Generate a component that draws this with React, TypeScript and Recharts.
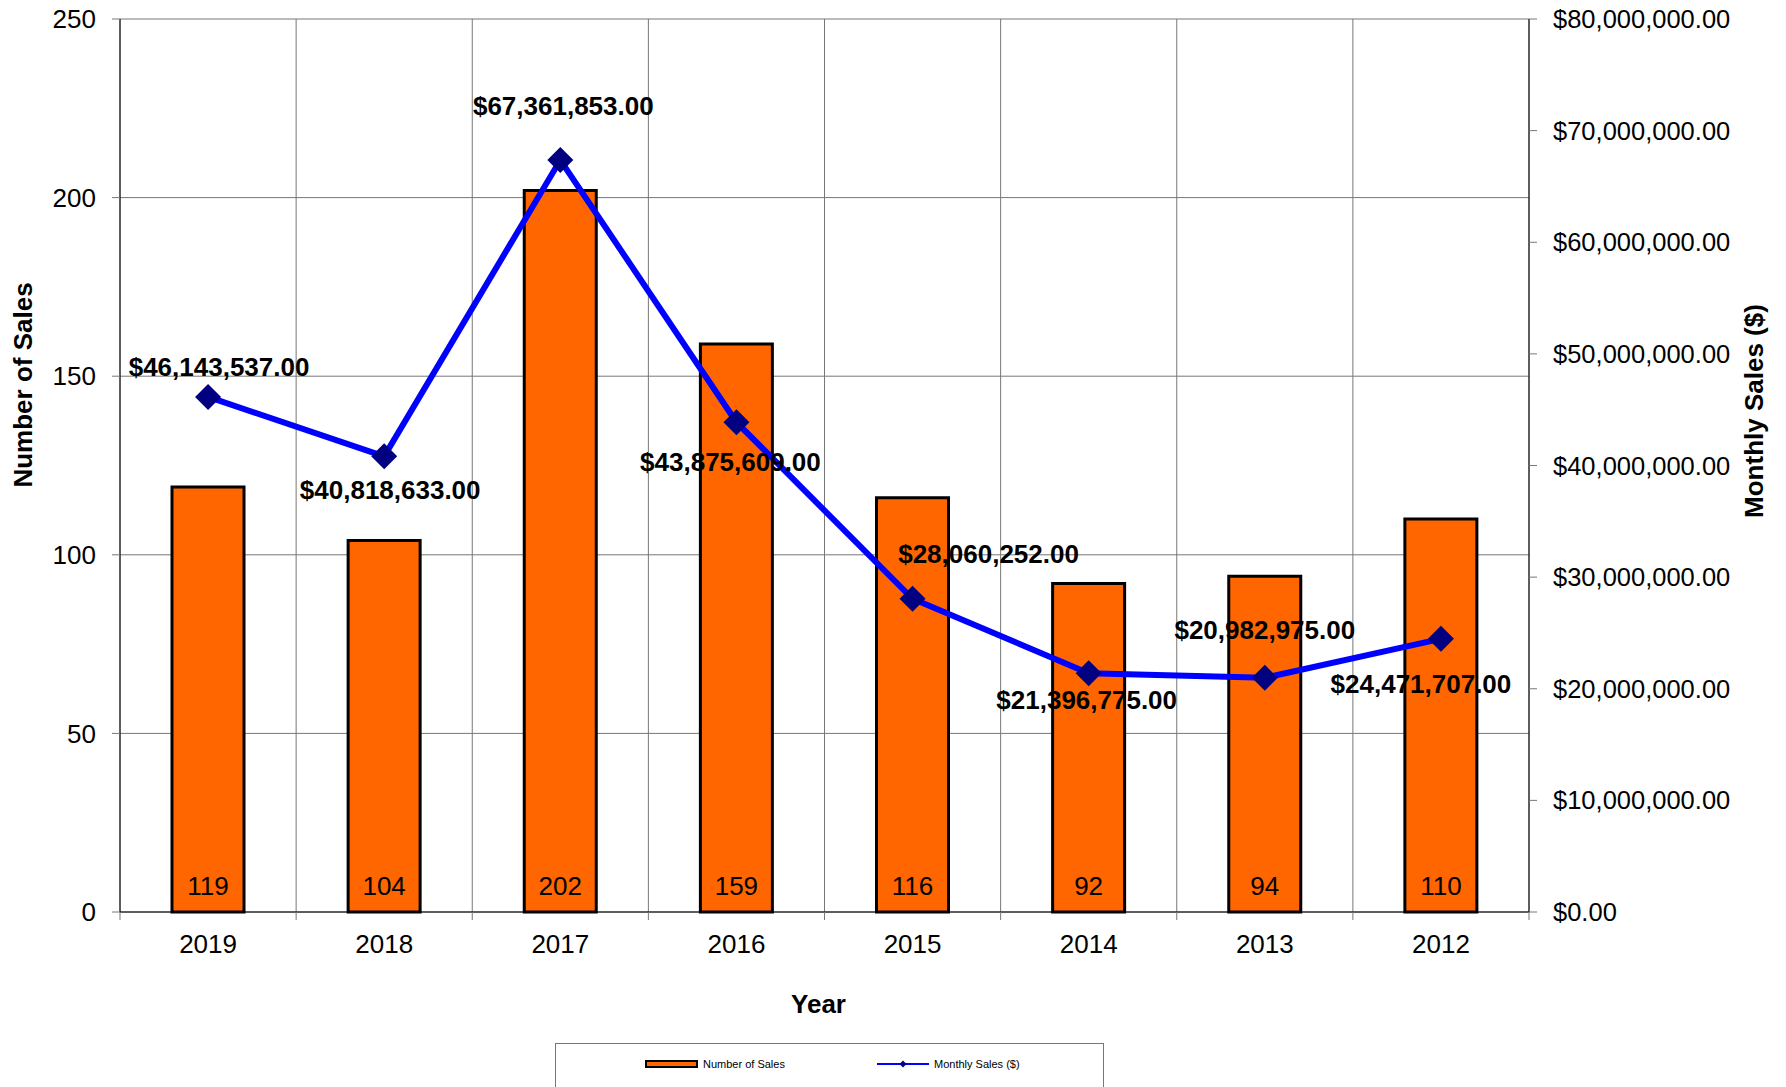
import React from "react";
import {
  Bar,
  CartesianGrid,
  ComposedChart,
  LabelList,
  Legend,
  Line,
  XAxis,
  YAxis,
} from "recharts";

const YEARS = ["2019", "2018", "2017", "2016", "2015", "2014", "2013", "2012"];
const SALES_COUNT = [119, 104, 202, 159, 116, 92, 94, 110];
const MONTHLY_SALES = [46143537, 40818633, 67361853, 43875609, 28060252, 21396775, 20982975, 24471707];
const COUNT_TICKS = [0, 50, 100, 150, 200, 250];
const MONEY_TICKS = [0, 10000000, 20000000, 30000000, 40000000, 50000000, 60000000, 70000000, 80000000];

// where each money label sits relative to its marker (dx, dy)
const LABEL_OFFSETS = [
  [11, -30],
  [6, 34],
  [3, -54],
  [-6, 40],
  [76, -45],
  [-2, 27],
  [0, -48],
  [-20, 45],
];

const FONT = "'Liberation Sans', Arial, sans-serif";
const W = 1786;
const H = 1087;
const MARGIN = { top: 19, right: 17, left: 20, bottom: 65 };
const LEFT_W = 100;
const RIGHT_W = 240;
const X_H = 110;
const PLOT_W = W - MARGIN.left - MARGIN.right - LEFT_W - RIGHT_W;
const BAND = PLOT_W / YEARS.length;
const TICK_SIZE = 8;
const X_TICK_MARGIN = 15;

const data = YEARS.map((year, i) => ({
  year,
  count: SALES_COUNT[i],
  sales: MONTHLY_SALES[i],
}));

const money = (v: number) =>
  "$" + v.toLocaleString("en-US", { minimumFractionDigits: 2, maximumFractionDigits: 2 });

function XTick(props: any) {
  const { x, y, payload, index } = props;
  const top = y - X_TICK_MARGIN - TICK_SIZE;
  return (
    <g>
      <line x1={x - BAND / 2} x2={x - BAND / 2} y1={top} y2={top + TICK_SIZE} stroke="#777" />
      {index === YEARS.length - 1 && (
        <line x1={x + BAND / 2} x2={x + BAND / 2} y1={top} y2={top + TICK_SIZE} stroke="#777" />
      )}
      <text x={x} y={y} dy="0.71em" textAnchor="middle" fontSize={26} fontFamily={FONT} fill="#000">
        {payload.value}
      </text>
    </g>
  );
}

function Diamond(props: any) {
  const { cx, cy, index } = props;
  if (cx == null || cy == null) return null;
  const r = 13;
  return (
    <path
      key={`d-${index}`}
      d={`M${cx},${cy - r}L${cx + r},${cy}L${cx},${cy + r}L${cx - r},${cy}Z`}
      fill="#000080"
    />
  );
}

function SalesLabel(props: any) {
  const { x, y, index, value } = props;
  const [dx, dy] = LABEL_OFFSETS[index] || [0, -30];
  return (
    <text
      x={x + dx}
      y={y + dy}
      textAnchor="middle"
      dominantBaseline="central"
      fontSize={26}
      fontWeight="bold"
      fontFamily={FONT}
      fill="#000"
    >
      {money(value)}
    </text>
  );
}

function CountLabel(props: any) {
  const { x, y, width, height, value } = props;
  return (
    <text
      x={x + width / 2}
      y={y + height - 26}
      textAnchor="middle"
      dominantBaseline="central"
      fontSize={26}
      fontFamily={FONT}
      fill="#000"
    >
      {value}
    </text>
  );
}

function LegendBox(props: any) {
  const items = props.payload || [];
  const bar = items.find((p: any) => p.dataKey === "count");
  const line = items.find((p: any) => p.dataKey === "sales");
  return (
    <svg width={549} height={50} style={{ display: "block" }}>
      <rect x={0.5} y={0.5} width={548} height={60} fill="#fff" stroke="#777" />
      <rect x={91} y={18} width={51} height={6} fill="#FF6600" stroke="#000" strokeWidth={2} />
      <text x={148} y={21} dominantBaseline="central" fontSize={11} fontFamily={FONT} fill="#000">
        {bar ? bar.value : "Number of Sales"}
      </text>
      <line x1={322} x2={374} y1={21} y2={21} stroke="#0000FF" strokeWidth={2} />
      <path d="M348,17.5L351.5,21L348,24.5L344.5,21Z" fill="#000080" />
      <text x={379} y={21} dominantBaseline="central" fontSize={11} fontFamily={FONT} fill="#000">
        {line ? line.value : "Monthly Sales ($)"}
      </text>
    </svg>
  );
}

export default function App() {
  return (
    <div
      style={{
        position: "absolute",
        left: 0,
        top: 0,
        width: W,
        height: H,
        overflow: "hidden",
        background: "#fff",
        fontFamily: FONT,
      }}
    >
      <ComposedChart width={W} height={H} data={data} margin={MARGIN}>
        <CartesianGrid
          yAxisId="left"
          stroke="#777"
          verticalCoordinatesGenerator={({ offset }: any) =>
            Array.from({ length: YEARS.length + 1 }, (_, i) => offset.left + (i * offset.width) / YEARS.length)
          }
        />
        <XAxis
          dataKey="year"
          height={X_H}
          axisLine={{ stroke: "#000" }}
          tickLine={false}
          tickSize={TICK_SIZE}
          tickMargin={X_TICK_MARGIN}
          tick={<XTick />}
          interval={0}
          label={{
            value: "Year",
            position: "insideBottom",
            offset: 9,
            dx: -6,
            fontSize: 26,
            fontWeight: "bold",
            fill: "#000",
            fontFamily: FONT,
          }}
        />
        <YAxis
          yAxisId="left"
          width={LEFT_W}
          domain={[0, 250]}
          ticks={COUNT_TICKS}
          axisLine={{ stroke: "#000" }}
          tickLine={{ stroke: "#777" }}
          tickSize={TICK_SIZE}
          tickMargin={16}
          tick={{ fontSize: 26, fill: "#000", fontFamily: FONT }}
          label={{
            content: () => (
              <text
                x={23}
                y={385}
                transform="rotate(-90, 23, 385)"
                textAnchor="middle"
                dominantBaseline="central"
                fontSize={26}
                fontWeight="bold"
                fontFamily={FONT}
                fill="#000"
              >
                Number of Sales
              </text>
            ),
          }}
        />
        <YAxis
          yAxisId="right"
          orientation="right"
          width={RIGHT_W}
          domain={[0, 80000000]}
          ticks={MONEY_TICKS}
          tickFormatter={money}
          axisLine={{ stroke: "#000" }}
          tickLine={{ stroke: "#777" }}
          tickSize={TICK_SIZE}
          tickMargin={16}
          tick={{ fontSize: 25.5, fill: "#000", fontFamily: FONT }}
          label={{
            content: () => (
              <text
                x={1754}
                y={411}
                transform="rotate(-90, 1754, 411)"
                textAnchor="middle"
                dominantBaseline="central"
                fontSize={26}
                fontWeight="bold"
                fontFamily={FONT}
                fill="#000"
              >
                Monthly Sales ($)
              </text>
            ),
          }}
        />
        <Legend
          verticalAlign="middle"
          align="center"
          layout="horizontal"
          wrapperStyle={{ left: 555, top: 1043, width: 549, height: 50 }}
          content={<LegendBox />}
        />
        <Bar
          yAxisId="left"
          dataKey="count"
          name="Number of Sales"
          fill="#FF6600"
          stroke="#000"
          strokeWidth={3}
          barSize={72}
          isAnimationActive={false}
        >
          <LabelList dataKey="count" content={<CountLabel />} />
        </Bar>
        <Line
          yAxisId="right"
          dataKey="sales"
          name="Monthly Sales ($)"
          stroke="#0000FF"
          strokeWidth={6}
          dot={<Diamond />}
          activeDot={false}
          isAnimationActive={false}
        >
          <LabelList dataKey="sales" content={<SalesLabel />} />
        </Line>
      </ComposedChart>
    </div>
  );
}
